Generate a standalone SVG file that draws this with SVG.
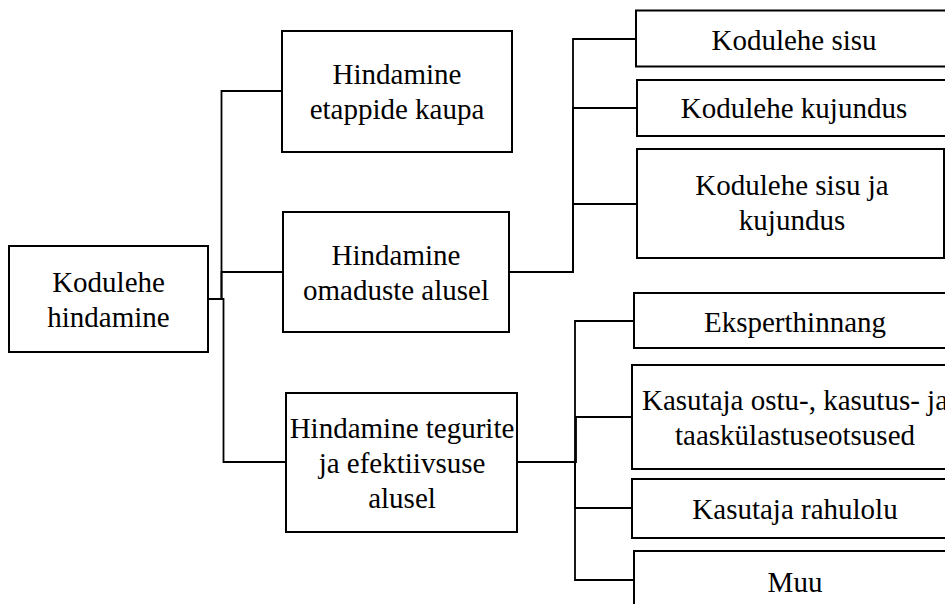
<svg xmlns="http://www.w3.org/2000/svg" width="945" height="604" viewBox="0 0 945 604">
<style>
.box{fill:#fff;stroke:#000;stroke-width:2}
.lbl{font-family:"Liberation Serif","Times New Roman",serif;font-size:29px;fill:#000;text-anchor:middle}
.con{fill:none;stroke:#000;stroke-width:1.8}
</style>
<rect width="945" height="604" fill="#fff"/>
<g id="connectors">
<path class="con" d="M208,299 H221.5 V91 H282"/>
<path class="con" d="M208,299 H221.5 V272 H283"/>
<path class="con" d="M208,299 H223.5 V462 H286"/>
<path class="con" d="M509,272 H573 V39 H636"/>
<path class="con" d="M509,272 H573 V108 H637"/>
<path class="con" d="M509,272 H573 V204 H637"/>
<path class="con" d="M517,462 H575 V321 H634"/>
<path class="con" d="M517,462 H576 V417 H632"/>
<path class="con" d="M517,462 H575 V508 H632"/>
<path class="con" d="M517,462 H575 V580 H634"/>
</g>
<g id="root">
<rect class="box" x="9" y="246" width="199" height="106"/>
<text class="lbl" x="108.5" y="292">Kodulehe</text>
<text class="lbl" x="108.5" y="327">hindamine</text>
</g>
<g id="etappide">
<rect class="box" x="282" y="31" width="230" height="121"/>
<text class="lbl" x="397" y="84">Hindamine</text>
<text class="lbl" x="397" y="119">etappide kaupa</text>
</g>
<g id="omaduste">
<rect class="box" x="283" y="212" width="226" height="120"/>
<text class="lbl" x="396" y="265">Hindamine</text>
<text class="lbl" x="396" y="300">omaduste alusel</text>
</g>
<g id="tegurite">
<rect class="box" x="286" y="393" width="231" height="139"/>
<text class="lbl" x="402" y="438">Hindamine tegurite</text>
<text class="lbl" x="402" y="473">ja efektiivsuse</text>
<text class="lbl" x="402" y="508">alusel</text>
</g>
<g id="sisu">
<rect class="box" x="636" y="10.5" width="320" height="56"/>
<text class="lbl" x="794" y="50">Kodulehe sisu</text>
</g>
<g id="kujundus">
<rect class="box" x="637" y="80" width="320" height="56"/>
<text class="lbl" x="794" y="118">Kodulehe kujundus</text>
</g>
<g id="sisukujundus">
<rect class="box" x="637" y="149" width="307" height="109"/>
<text class="lbl" x="792" y="195">Kodulehe sisu ja</text>
<text class="lbl" x="792" y="230">kujundus</text>
</g>
<g id="ekspert">
<rect class="box" x="634" y="293" width="320" height="55"/>
<text class="lbl" x="795" y="332">Eksperthinnang</text>
</g>
<g id="otsused">
<rect class="box" x="632" y="365" width="322" height="104"/>
<text class="lbl" x="795" y="410">Kasutaja ostu-, kasutus- ja</text>
<text class="lbl" x="795" y="445">taaskülastuseotsused</text>
</g>
<g id="rahulolu">
<rect class="box" x="632" y="479" width="322" height="59"/>
<text class="lbl" x="795" y="519">Kasutaja rahulolu</text>
</g>
<g id="muu">
<rect class="box" x="634" y="551" width="320" height="70"/>
<text class="lbl" x="795" y="592">Muu</text>
</g>
</svg>
